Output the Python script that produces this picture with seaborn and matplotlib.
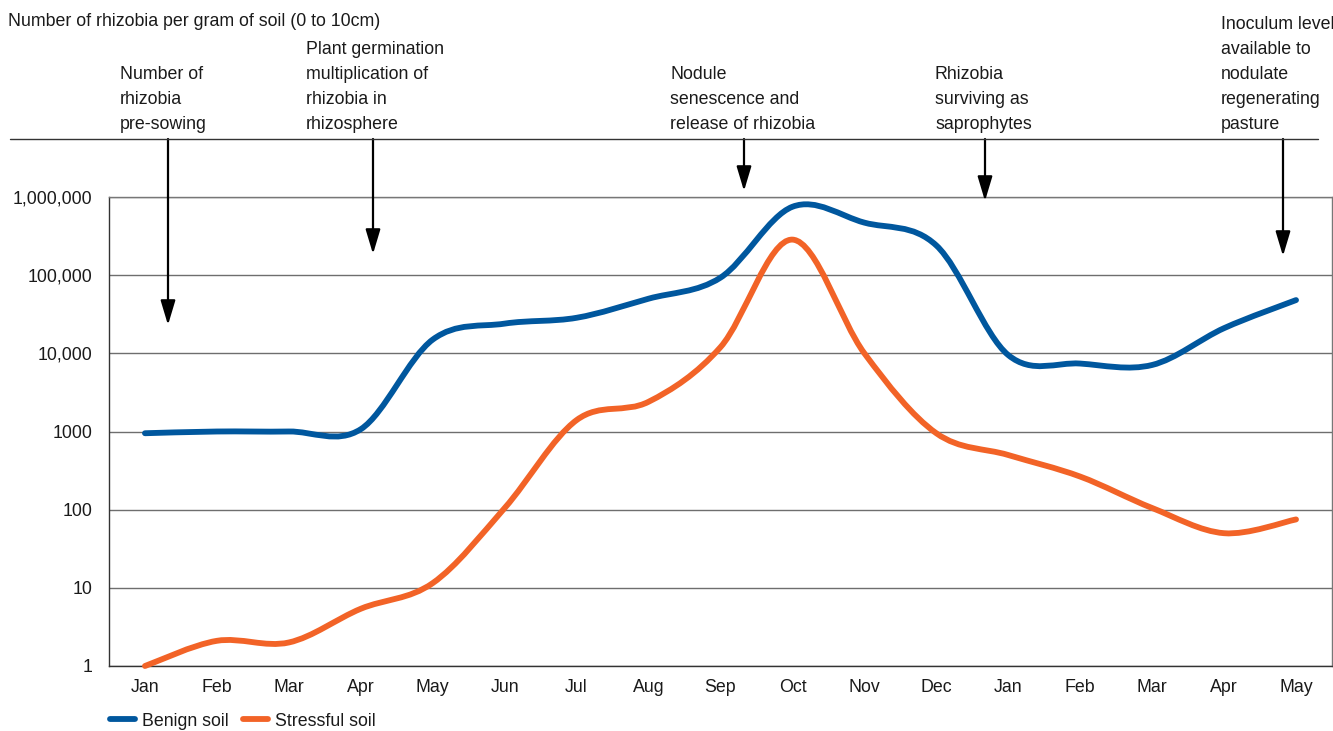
import numpy as np
import pandas as pd
import matplotlib
matplotlib.use("Agg")
import matplotlib.pyplot as plt
import seaborn as sns
from matplotlib.path import Path
from matplotlib.patches import PathPatch
from matplotlib.lines import Line2D

# chart data
months = ["Jan", "Feb", "Mar", "Apr", "May", "Jun", "Jul", "Aug", "Sep",
          "Oct", "Nov", "Dec", "Jan", "Feb", "Mar", "Apr", "May"]
benign = [950, 1000, 1000, 1070, 15000, 24000, 28500, 50000, 93000,
          750000, 470000, 240000, 9500, 7400, 7100, 21000, 48000]
stressful = [1, 2.1, 2.0, 5.4, 11.5, 105, 1400, 2400, 12000,
             285000, 10000, 950, 500, 265, 105, 50, 75]
series_names = ["Benign soil", "Stressful soil"]
ytick_values = [1, 10, 100, 1000, 10000, 100000, 1000000]
ytick_labels = ["1", "10", "100", "1000", "10,000", "100,000", "1,000,000"]

title = "Number of rhizobia per gram of soil (0 to 10cm)"
notes = ["Number of\nrhizobia\npre-sowing",
         "Plant germination\nmultiplication of\nrhizobia in\nrhizosphere",
         "Nodule\nsenescence and\nrelease of rhizobia",
         "Rhizobia\nsurviving as\nsaprophytes",
         "Inoculum level\navailable to\nnodulate\nregenerating\npasture"]

W, H = 1333, 731
BLUE = "#00579e"
ORANGE = "#f26327"
TXT = "#1a1a1a"
FS = 12.8

sns.set_style("white")
plt.rcParams["font.family"] = ["Liberation Sans", "DejaVu Sans"]

df = pd.DataFrame({
    "pos": list(range(len(months))) * 2,
    "count": benign + stressful,
    "soil": [series_names[0]] * len(benign) + [series_names[1]] * len(stressful),
})

fig = plt.figure(figsize=(W / 100, H / 100), dpi=100)
ax = fig.add_axes([109 / W, 1 - 666 / H, (1332 - 109) / W, (666 - 197) / H])

sns.lineplot(data=df, x="pos", y="count", hue="soil",
             palette=[BLUE, ORANGE], linewidth=4, ax=ax, legend=False)
ax.set_yscale("log")


def smooth(xs, ys):
    # Excel-like smoothed line: Catmull-Rom bezier through the points in log space
    p = np.column_stack([xs, np.log10(ys)])
    n = len(p)
    verts = [p[0]]
    codes = [Path.MOVETO]
    for i in range(n - 1):
        p0, p1, p2, p3 = p[max(i - 1, 0)], p[i], p[i + 1], p[min(i + 2, n - 1)]
        verts += [p1 + (p2 - p0) / 6, p2 - (p3 - p1) / 6, p2]
        codes += [Path.CURVE4] * 3
    verts = np.array(verts)
    verts[:, 1] = 10 ** verts[:, 1]
    return Path(verts, codes)


handles = []
for line in list(ax.lines):
    xs, ys = line.get_xdata(), line.get_ydata()
    col = line.get_color()
    patch = PathPatch(smooth(xs, ys), fill=False, edgecolor=col, lw=4.2,
                      capstyle="round", joinstyle="round", clip_on=False, zorder=3)
    ax.add_patch(patch)
    line.remove()
    handles.append(Line2D([], [], color=col, lw=4.2, solid_capstyle="round"))

ax.set_xlim(-0.5, len(months) - 0.5)
ax.set_ylim(1, 1000000)
ax.set_xlabel("")
ax.set_ylabel("")

ax.set_xticks(range(len(months)))
ax.set_xticklabels(months)
ax.set_xticks(np.arange(-0.5, len(months), 1), minor=True)
ax.tick_params(axis="x", which="major", length=0, pad=9, labelsize=FS, labelcolor=TXT)
ax.tick_params(axis="x", which="minor", length=7, width=1, color="#333333", direction="out")

ax.set_yticks(ytick_values)
ax.set_yticklabels(ytick_labels)
ax.yaxis.set_minor_locator(matplotlib.ticker.NullLocator())
ax.tick_params(axis="y", which="major", length=8, width=1, color="#666666",
               direction="out", pad=4, labelsize=FS, labelcolor=TXT)

ax.grid(axis="y", color="#6e6e6e", lw=1)
ax.set_axisbelow(True)
for side in ["left", "bottom"]:
    ax.spines[side].set_color("#333333")
    ax.spines[side].set_linewidth(1)
for side in ["top", "right"]:
    ax.spines[side].set_color("#777777")
    ax.spines[side].set_linewidth(1)

# header text and annotation arrows
fig.text(8 / W, 1 - 26 / H, title, fontsize=FS, color=TXT, ha="left", va="baseline")
note_x = [120, 306, 670, 935, 1221]
arrow_x = [168, 373, 744, 985, 1283]
arrow_tip = [325, 254, 191, 201, 256]
for tx, txt in zip(note_x, notes):
    fig.text(tx / W, 1 - 129 / H, txt, fontsize=FS, color=TXT, ha="left",
             va="baseline", linespacing=1.62)
fig.add_artist(Line2D([10 / W, 1318 / W], [1 - 139 / H] * 2, transform=fig.transFigure,
                      color="#333333", lw=1))
for axx, tip in zip(arrow_x, arrow_tip):
    ax.annotate("", xy=(axx, H - tip), xycoords="figure pixels",
                xytext=(axx, H - 139), textcoords="figure pixels",
                annotation_clip=False,
                arrowprops=dict(arrowstyle="-|>,head_length=1.5,head_width=0.45",
                                mutation_scale=10, lw=1.6, color="black",
                                shrinkA=0, shrinkB=0))

fig.legend(handles, series_names, loc="center left",
           bbox_to_anchor=(110 / W, 1 - 721 / H), bbox_transform=fig.transFigure,
           frameon=False, ncol=2, fontsize=FS, handlelength=1.4, handletextpad=0.4,
           columnspacing=0.8, borderpad=0, borderaxespad=0, labelcolor=TXT)

fig.savefig("out.png", dpi=100)
